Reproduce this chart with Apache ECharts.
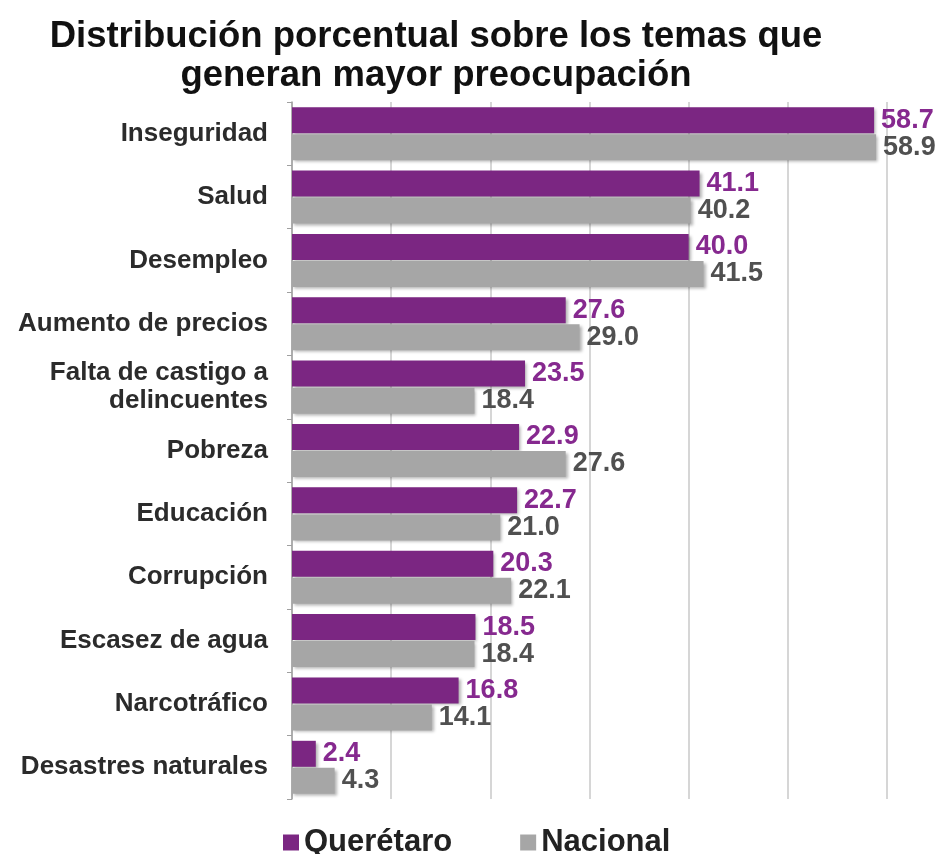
<!DOCTYPE html>
<html>
<head>
<meta charset="utf-8">
<script src="https://cdn.jsdelivr.net/npm/echarts@6/dist/echarts.min.js"></script>
<style>
  html, body { margin: 0; padding: 0; background: #fff; }
  #chart { width: 943px; height: 854px; }
</style>
</head>
<body>
<div id="chart"></div>
<script>
// categorias (de arriba hacia abajo)
var temas = ['Inseguridad', 'Salud', 'Desempleo', 'Aumento de precios',
    'Falta de castigo a\ndelincuentes', 'Pobreza', 'Educación', 'Corrupción',
    'Escasez de agua', 'Narcotráfico', 'Desastres naturales'];
var queretaro = [58.7, 41.1, 40.0, 27.6, 23.5, 22.9, 22.7, 20.3, 18.5, 16.8, 2.4];
var nacional = [58.9, 40.2, 41.5, 29.0, 18.4, 27.6, 21.0, 22.1, 18.4, 14.1, 4.3];

var chart = echarts.init(document.getElementById('chart'));

var fuente = 'Liberation Sans, Arial, sans-serif';
var sombra = {
    shadowColor: 'rgba(0,0,0,0.3)',
    shadowBlur: 3,
    shadowOffsetX: 2,
    shadowOffsetY: 2
};

// etiqueta de valor al final de cada barra
function etiqueta(color) {
    return {
        show: true,
        position: 'right',
        distance: 7,
        formatter: function (p) { return p.value.toFixed(1); },
        fontFamily: fuente,
        fontWeight: 'bold',
        fontSize: 27,
        color: color
    };
}

var option = {
    backgroundColor: '#fff',
    title: {
        text: 'Distribución porcentual sobre los temas que\ngeneran mayor preocupación',
        left: 436,
        textAlign: 'center',
        top: 17,
        padding: 0,
        textStyle: {
            fontFamily: fuente,
            fontWeight: 'bold',
            fontSize: 36.5,
            lineHeight: 39,
            color: '#111'
        }
    },
    legend: {
        top: 827,
        left: 283,
        padding: 0,
        itemWidth: 16,
        itemHeight: 16,
        itemGap: 68,
        itemTextGap: 13,
        icon: 'rect',
        textStyle: {
            fontFamily: fuente,
            fontWeight: 'bold',
            fontSize: 31,
            color: '#222'
        },
        data: ['Querétaro', 'Nacional']
    },
    grid: {
        left: 292,
        right: 56,
        top: 102,
        bottom: 55,
        containLabel: false
    },
    xAxis: {
        type: 'value',
        min: 0,
        max: 60,
        interval: 10,
        axisLabel: { show: false },
        axisLine: { show: false },
        axisTick: { show: false },
        splitLine: { show: true, lineStyle: { color: '#c8c8c8', width: 1.5 } }
    },
    yAxis: {
        type: 'category',
        inverse: true,
        data: temas,
        axisLine: { show: true, lineStyle: { color: '#a0a0a0', width: 1.5 } },
        axisTick: { show: true, length: 5, lineStyle: { color: '#a0a0a0' } },
        axisLabel: {
            margin: 24,
            fontFamily: fuente,
            fontWeight: 'bold',
            fontSize: 26,
            lineHeight: 28,
            color: '#2b2b2b',
            align: 'right'
        }
    },
    series: [
        {
            name: 'Querétaro',
            type: 'bar',
            data: queretaro,
            barWidth: 26,
            barGap: '4%',
            itemStyle: Object.assign({ color: '#7b2682' }, sombra),
            label: etiqueta('#86298f')
        },
        {
            name: 'Nacional',
            type: 'bar',
            data: nacional,
            barWidth: 26,
            itemStyle: Object.assign({ color: '#a6a6a6' }, sombra),
            label: etiqueta('#505050')
        }
    ]
};

chart.setOption(option);
</script>
</body>
</html>
